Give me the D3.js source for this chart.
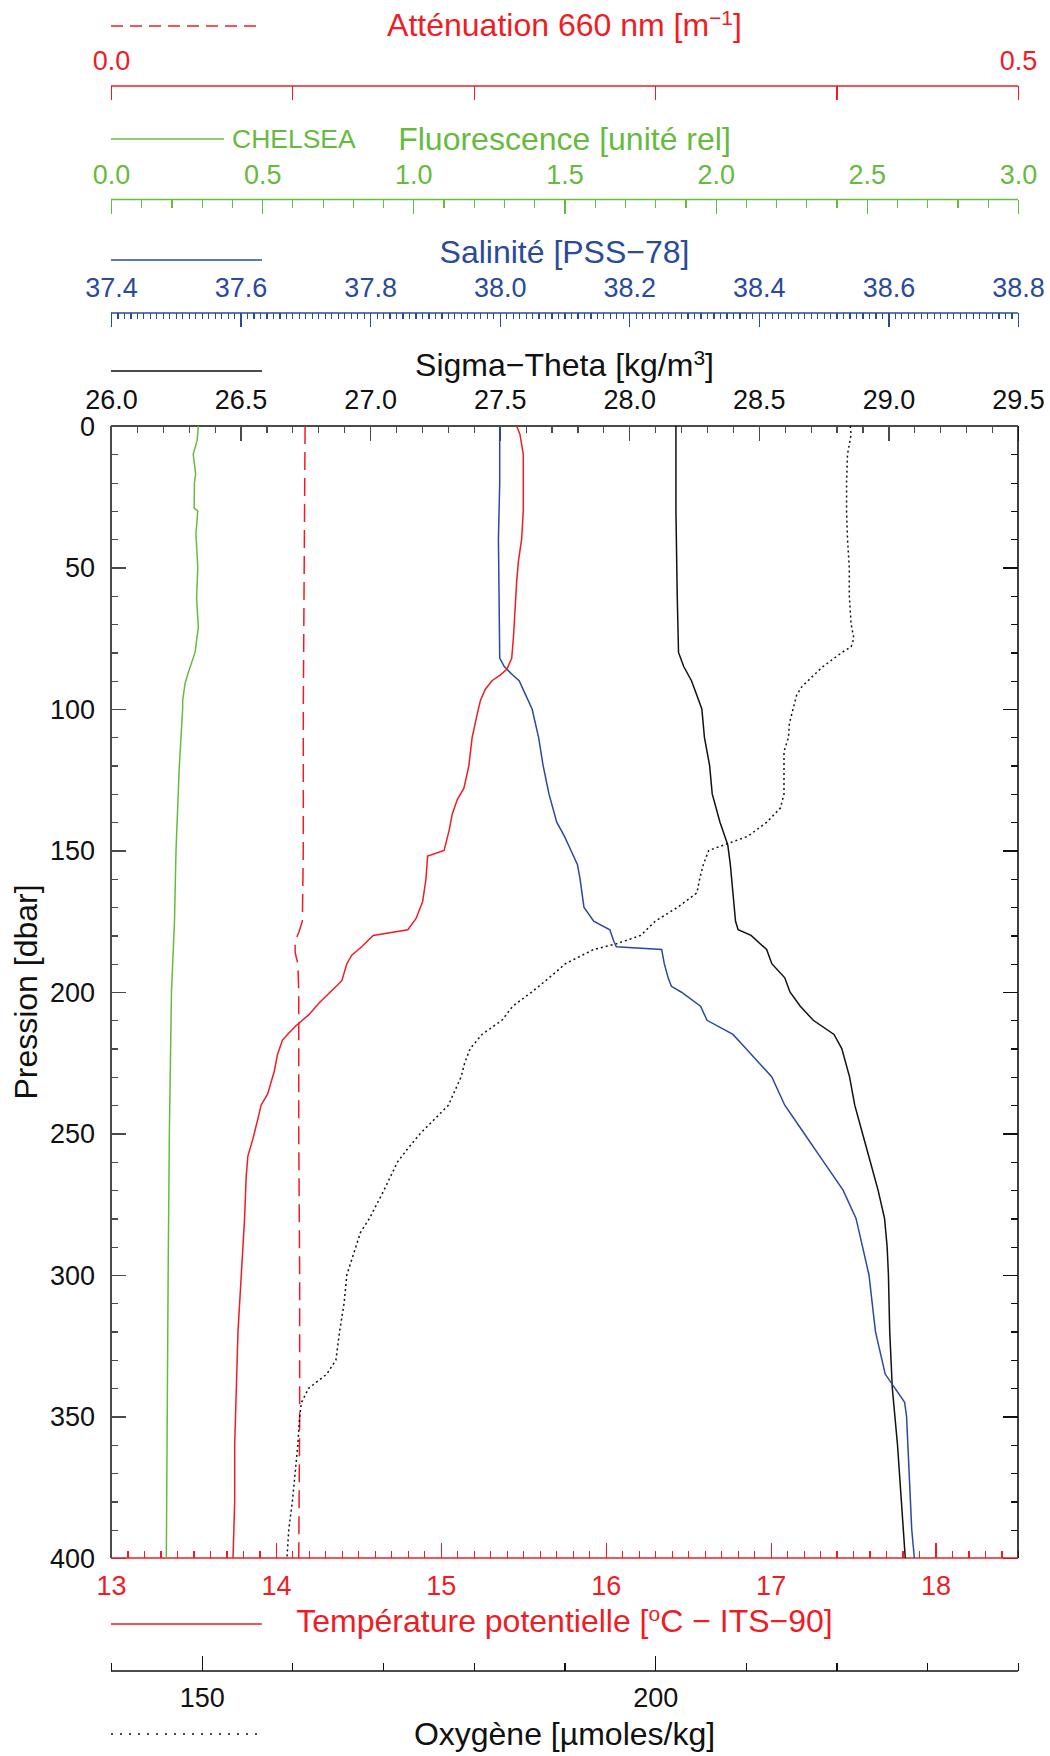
<!DOCTYPE html>
<html lang="fr">
<head>
<meta charset="UTF-8">
<title>Profil CHELSEA</title>
<script src="https://d3js.org/d3.v7.min.js"></script>
<style>
  body { margin: 0; background: #fff; }
  svg { font-family: "Liberation Sans", Arial, sans-serif; }
  .tick line { shape-rendering: crispEdges; }
</style>
</head>
<body>
<svg width="1050" height="1756"></svg>
<script>
// profile data (pressure in dbar, value)
const tempPres = [0,3,10,20,30,40,48,55,65,75,82,86,88,90,93,97,102,110,120,128,132,137,143,150,152,160,168,174,178,180,184,187,190,196,200,204,208,212,215,217,222,228,236,240,245,252,258,265,280,300,320,340,360,380,400];
const temperature = [15.46,15.48,15.50,15.50,15.50,15.49,15.47,15.46,15.45,15.44,15.43,15.40,15.36,15.31,15.27,15.24,15.22,15.19,15.17,15.14,15.10,15.07,15.05,15.02,14.92,14.91,14.89,14.85,14.80,14.59,14.52,14.46,14.43,14.40,14.33,14.26,14.20,14.12,14.07,14.04,14.01,13.99,13.95,13.91,13.89,13.86,13.83,13.82,13.81,13.79,13.77,13.76,13.75,13.75,13.74];

const salPres = [0,20,40,60,82,85,88,90,95,100,110,120,130,140,145,150,155,160,170,175,178,182,184,185,190,195,198,200,205,210,215,220,225,230,240,250,260,270,280,290,300,310,320,330,335,340,345,350,370,390,400];
const salinity = [38.0,38.0,37.998,37.999,38.0,38.007,38.02,38.03,38.04,38.05,38.06,38.067,38.076,38.088,38.10,38.11,38.12,38.124,38.13,38.145,38.17,38.176,38.18,38.25,38.254,38.26,38.265,38.28,38.31,38.32,38.36,38.38,38.40,38.42,38.44,38.47,38.50,38.53,38.55,38.56,38.57,38.575,38.58,38.59,38.595,38.61,38.625,38.628,38.632,38.636,38.64];

const sigPres = [0,30,60,80,85,90,95,100,110,120,130,140,148,155,165,175,178,180,185,190,195,200,205,210,215,220,230,240,250,260,270,280,290,300,320,340,360,380,400];
const sigmaTheta = [28.18,28.18,28.185,28.19,28.21,28.24,28.26,28.28,28.29,28.31,28.32,28.35,28.38,28.39,28.40,28.41,28.42,28.47,28.53,28.55,28.60,28.62,28.66,28.71,28.79,28.82,28.85,28.87,28.90,28.93,28.96,28.985,28.995,29.0,29.005,29.015,29.035,29.05,29.065];

const fluoPres = [0,5,10,17,20,29,30,38,50,61,71,80,87,91,97,100,120,150,175,200,250,300,350,400];
const fluorescence = [0.289,0.285,0.272,0.280,0.276,0.275,0.287,0.281,0.287,0.283,0.289,0.278,0.256,0.245,0.237,0.237,0.226,0.215,0.210,0.200,0.193,0.189,0.186,0.183];

const attPres = [0,50,100,150,175,179,182,186,190,200,250,300,350,400];
const attenuation = [0.107,0.1065,0.106,0.106,0.1055,0.1035,0.1015,0.1015,0.103,0.1035,0.1035,0.104,0.104,0.1035];

const oxyPres = [0,3,10,20,30,40,50,60,70,75,78,80,85,88,92,95,100,105,110,115,120,130,135,140,145,150,155,160,165,170,175,180,183,185,190,195,200,205,210,215,220,225,230,240,250,255,260,270,280,285,290,300,310,320,330,335,340,345,350,360,370,380,390,400];
const oxygen = [221.5,221.6,221.2,221.1,221.1,221.2,221.4,221.4,221.6,221.9,221.6,220.6,218.5,217.5,216.2,215.6,215.2,214.8,214.7,214.2,214.2,214.2,213.8,212.3,210.2,205.9,205.3,204.9,204.6,202.5,200.0,198.4,195.7,193.2,190.1,188.3,186.4,184.3,183.1,180.9,179.6,179.0,178.6,177.2,174.1,172.8,171.6,170.1,168.5,167.5,167.0,166.0,165.7,165.2,164.8,163.8,161.8,161.0,160.8,160.6,160.3,160.0,159.6,159.4];

// tick labels
const attTicks = [0.0, 0.5];
const fluoTicks = [0.0, 0.5, 1.0, 1.5, 2.0, 2.5, 3.0];
const salTicks = [37.4, 37.6, 37.8, 38.0, 38.2, 38.4, 38.6, 38.8];
const sigTicks = [26.0, 26.5, 27.0, 27.5, 28.0, 28.5, 29.0, 29.5];
const tempTicks = [13, 14, 15, 16, 17, 18];
const oxyTicks = [150, 200];
const presTicks = [0, 50, 100, 150, 200, 250, 300, 350, 400];

const RED = "#ee1d25", GREEN = "#66bb3f", BLUE = "#2a4a9c", BLACK = "#111", FRAME = "#4a4a4a";
const TITLE_SIZE = 32, TICK_SIZE = 27;

const svg = d3.select("svg");
const plotL = 111, plotR = 1018, plotT = 426, plotB = 1558;
const mid = (plotL + plotR) / 2;

const y = d3.scaleLinear().domain([0, 400]).range([plotT, plotB]);
const xAtt = d3.scaleLinear().domain([0, 0.5]).range([plotL, plotR]);
const xFluo = d3.scaleLinear().domain([0, 3]).range([plotL, plotR]);
const xSal = d3.scaleLinear().domain([37.4, 38.8]).range([plotL, plotR]);
const xSig = d3.scaleLinear().domain([26, 29.5]).range([plotL, plotR]);
const xTemp = d3.scaleLinear().domain([13, 18.5]).range([plotL, plotR]);
const xOxy = d3.scaleLinear().domain([140, 240]).range([plotL, plotR]);

function steps(a, b, s) {
  return d3.range(Math.round((b - a) / s) + 1).map(i => +(a + i * s).toFixed(4));
}

// draws a horizontal axis: line, minor + major ticks, labels
function hAxis(opt) {
  const g = svg.append("g").attr("transform", "translate(0," + opt.y + ")");
  const axisFn = opt.up ? d3.axisTop : d3.axisBottom;
  if (opt.minor) {
    g.append("g").call(axisFn(opt.x).tickValues(opt.minor).tickSize(opt.minorLen).tickFormat("").tickSizeOuter(0))
      .call(s => s.select(".domain").remove());
  }
  const mg = g.append("g").call(axisFn(opt.x).tickValues(opt.major).tickSize(opt.majorLen).tickFormat(opt.fmt).tickSizeOuter(0));
  mg.select(".domain").remove();
  mg.selectAll("text").attr("y", opt.labelY).attr("dy", null)
    .attr("font-size", TICK_SIZE).attr("fill", opt.color).attr("font-family", null);
  g.selectAll(".tick line").attr("stroke", opt.color).attr("stroke-width", 1.2);
  if (opt.line) {
    g.append("line").attr("x1", plotL).attr("x2", plotR).attr("stroke", opt.color).attr("stroke-width", 1.4);
  }
  return g;
}

function title(yy, color, parts) {
  const t = svg.append("text").attr("x", mid).attr("y", yy).attr("text-anchor", "middle")
    .attr("font-size", TITLE_SIZE).attr("fill", color);
  parts.forEach(p => {
    const ts = t.append("tspan").text(p.t);
    if (p.sup) ts.attr("baseline-shift", "super").attr("font-size", 21);
  });
  return t;
}

function legendLine(yy, color, dash) {
  svg.append("line").attr("x1", plotL).attr("x2", 262).attr("y1", yy).attr("y2", yy)
    .attr("stroke", color).attr("stroke-width", 1.6).attr("stroke-dasharray", dash || null);
}

// ---- Atténuation
title(36, RED, [{t: "Atténuation 660 nm [m"}, {t: "−1", sup: true}, {t: "]"}]);
legendLine(26, RED, "12,7");
hAxis({x: xAtt, y: 86, major: steps(0, 0.5, 0.1), majorLen: 14, color: RED, line: true,
  labelY: -16, fmt: d => attTicks.includes(d) ? d3.format(".1f")(d) : ""});

// ---- Fluorescence
title(150, GREEN, [{t: "Fluorescence [unité rel]"}]);
svg.append("line").attr("x1", plotL).attr("x2", 224).attr("y1", 139).attr("y2", 139)
  .attr("stroke", GREEN).attr("stroke-width", 1.6);
svg.append("text").attr("x", 232).attr("y", 148).attr("font-size", 26.5).attr("fill", GREEN).text("CHELSEA");
hAxis({x: xFluo, y: 199.5, major: fluoTicks, majorLen: 14, minor: steps(0, 3, 0.1), minorLen: 8,
  color: GREEN, line: true, labelY: -16, fmt: d3.format(".1f")});

// ---- Salinité
title(263, BLUE, [{t: "Salinité [PSS−78]"}]);
legendLine(260, BLUE);
hAxis({x: xSal, y: 313, major: salTicks, majorLen: 14, minor: steps(37.4, 38.8, 0.01), minorLen: 6,
  color: BLUE, line: true, labelY: -16, fmt: d3.format(".1f")});

// ---- Sigma-Theta (top of frame)
title(376, BLACK, [{t: "Sigma−Theta [kg/m"}, {t: "3", sup: true}, {t: "]"}]);
legendLine(371, BLACK);
hAxis({x: xSig, y: plotT, major: sigTicks, majorLen: 15, minor: steps(26, 29.5, 0.1), minorLen: 7,
  color: FRAME, labelY: -17, fmt: d3.format(".1f")})
  .selectAll("text").attr("fill", BLACK);

// ---- Pression (left / right)
const yMinor = steps(0, 400, 10);
const lg = svg.append("g").attr("transform", "translate(" + plotL + ",0)");
lg.append("g").call(d3.axisRight(y).tickValues(yMinor).tickSize(7).tickFormat("").tickSizeOuter(0));
lg.append("g").call(d3.axisRight(y).tickValues(presTicks).tickSize(15).tickFormat(d3.format("d")).tickSizeOuter(0))
  .call(s => s.selectAll("text").attr("x", -16).attr("text-anchor", "end").attr("dy", "0.35em")
    .attr("font-size", TICK_SIZE).attr("fill", BLACK).attr("font-family", null));
lg.selectAll(".domain").remove();
lg.selectAll(".tick line").attr("stroke", FRAME).attr("stroke-width", 1.2);

const rg = svg.append("g").attr("transform", "translate(" + plotR + ",0)");
rg.append("g").call(d3.axisLeft(y).tickValues(yMinor).tickSize(7).tickFormat("").tickSizeOuter(0));
rg.append("g").call(d3.axisLeft(y).tickValues(presTicks).tickSize(15).tickFormat("").tickSizeOuter(0));
rg.selectAll(".domain").remove();
rg.selectAll(".tick line").attr("stroke", BLACK).attr("stroke-width", 1.2);

svg.append("text").attr("transform", "translate(37," + ((plotT + plotB) / 2) + ") rotate(-90)")
  .attr("text-anchor", "middle").attr("font-size", TITLE_SIZE).attr("fill", BLACK).text("Pression [dbar]");

// ---- Température (bottom of frame)
hAxis({x: xTemp, y: plotB, up: true, major: tempTicks, majorLen: 15, minor: steps(13, 18.5, 0.1), minorLen: 7,
  color: RED, labelY: 37, fmt: d3.format("d")});
title(1632, RED, [{t: "Température potentielle ["}, {t: "o", sup: true}, {t: "C − ITS−90]"}]);
legendLine(1624, RED);

// ---- Oxygène
hAxis({x: xOxy, y: 1671, up: true, major: oxyTicks, majorLen: 15, minor: steps(140, 240, 10), minorLen: 8,
  color: BLACK, line: true, labelY: 36, fmt: d3.format("d")});
title(1745, BLACK, [{t: "Oxygène [µmoles/kg]"}]);
legendLine(1734, BLACK, "2,7");

// ---- frame
svg.append("line").attr("x1", plotL).attr("x2", plotL).attr("y1", plotT).attr("y2", plotB).attr("stroke", FRAME).attr("stroke-width", 2);
svg.append("line").attr("x1", plotR).attr("x2", plotR).attr("y1", plotT).attr("y2", plotB).attr("stroke", BLACK).attr("stroke-width", 1.6);
svg.append("line").attr("x1", plotL).attr("x2", plotR).attr("y1", plotT).attr("y2", plotT).attr("stroke", FRAME).attr("stroke-width", 1.8);
svg.append("line").attr("x1", plotL).attr("x2", plotR).attr("y1", plotB).attr("y2", plotB).attr("stroke", RED).attr("stroke-width", 1.6);

// ---- profiles
function profile(pres, vals, x, color, dash) {
  const pts = pres.map((p, i) => [p, vals[i]]);
  svg.append("path").datum(pts)
    .attr("fill", "none").attr("stroke", color).attr("stroke-width", 1.5)
    .attr("stroke-dasharray", dash || null)
    .attr("d", d3.line().x(d => x(d[1])).y(d => y(d[0])));
}
profile(fluoPres, fluorescence, xFluo, GREEN);
profile(attPres, attenuation, xAtt, RED, "18,8");
profile(oxyPres, oxygen, xOxy, BLACK, "2,3");
profile(sigPres, sigmaTheta, xSig, BLACK);
profile(salPres, salinity, xSal, BLUE);
profile(tempPres, temperature, xTemp, RED);
</script>
</body>
</html>
